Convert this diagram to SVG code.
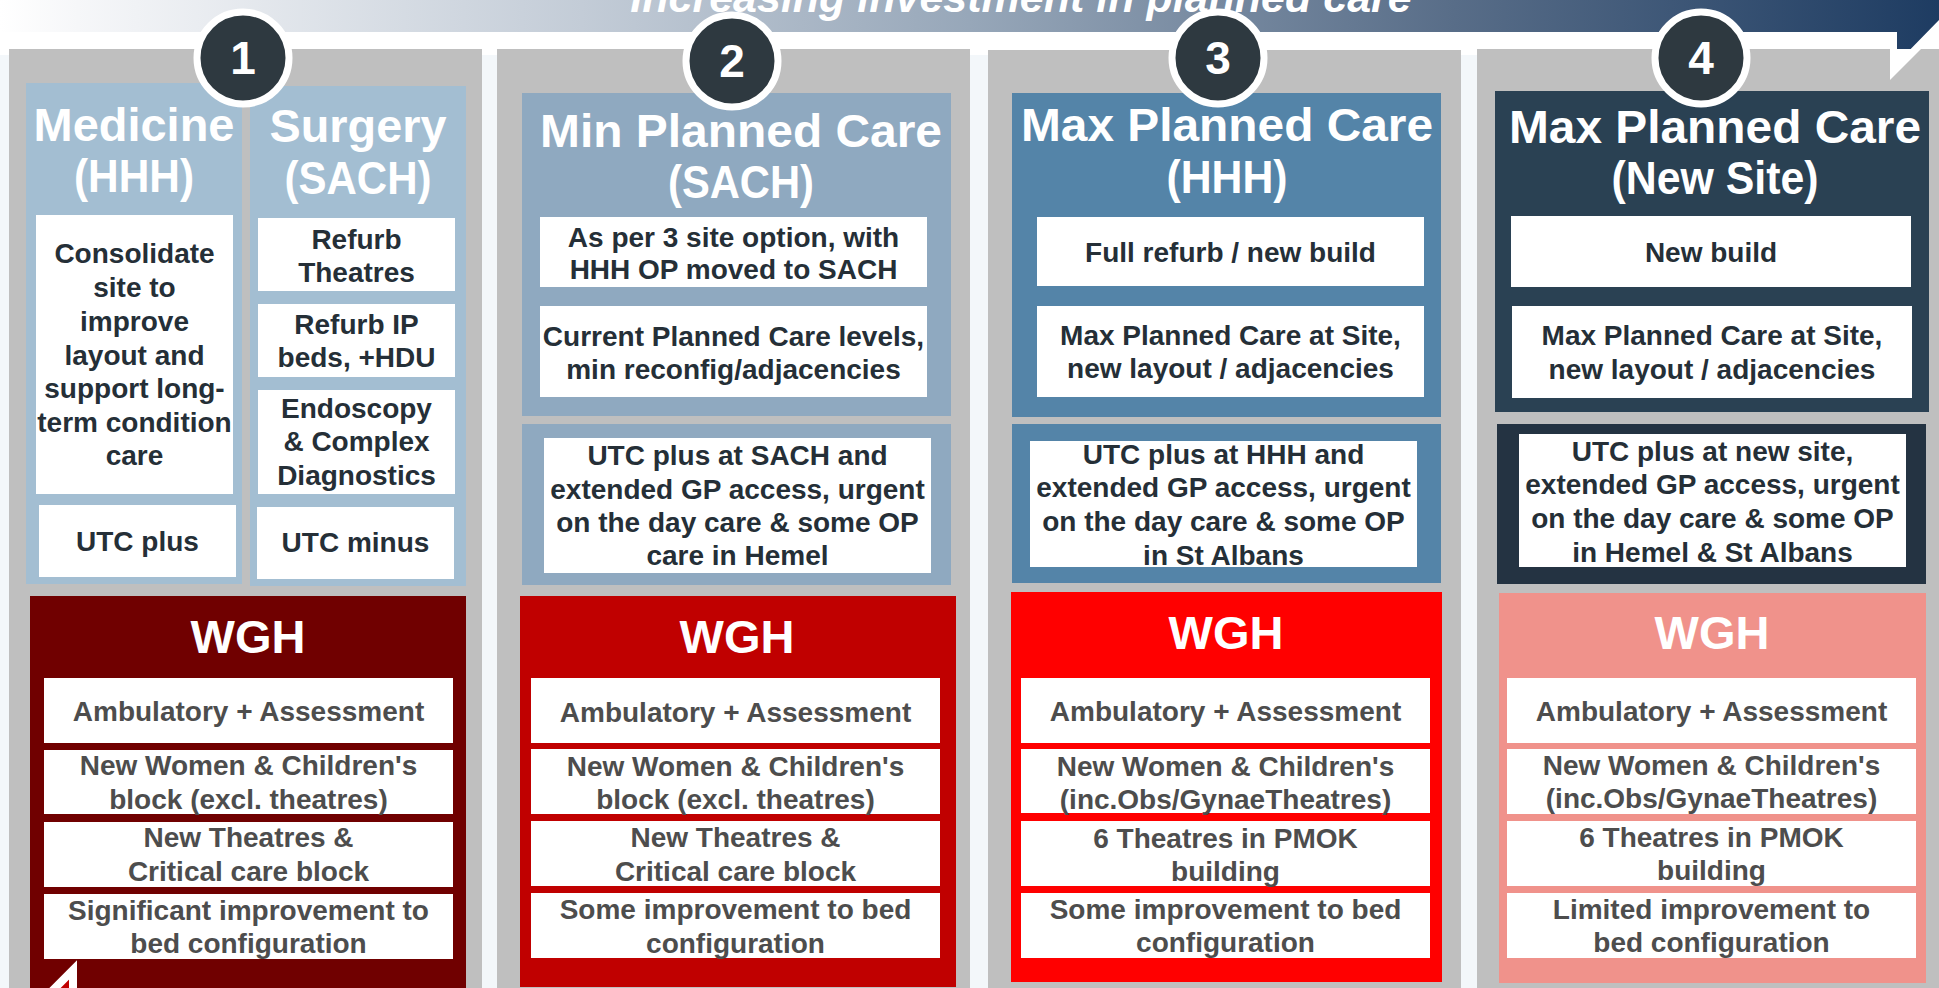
<svg xmlns="http://www.w3.org/2000/svg" width="1939" height="988" viewBox="0 0 1939 988">
<defs>
<linearGradient id="band" x1="0" y1="0" x2="1939" y2="0" gradientUnits="userSpaceOnUse">
<stop offset="0" stop-color="#FFFFFF"/>
<stop offset="0.04" stop-color="#F6F7F9"/>
<stop offset="0.3" stop-color="#C3CCD7"/>
<stop offset="0.5" stop-color="#97A7B9"/>
<stop offset="0.75" stop-color="#586D88"/>
<stop offset="1" stop-color="#1E3C62"/>
</linearGradient>
<style>
text{font-family:"Liberation Sans",Arial,sans-serif;font-weight:bold;text-anchor:middle}
.gray{fill:#BFBFBF}
.wb{fill:#FFFFFF}
.title{fill:#FFFFFF;font-size:47px}
.num{fill:#FFFFFF;font-size:46px}
.body{fill:#252F37;font-size:28px}
.wt{fill:#4D4D4D;font-size:28px}
.wgh{fill:#FFFFFF;font-size:47px}
.circ{fill:#2E3940;stroke:#FFFFFF;stroke-width:7}
</style>
</defs>
<rect x="0" y="0" width="1939" height="988" fill="#FFFFFF"/>
<rect x="0" y="55" width="1939" height="933" fill="#F3F7FA"/>

<g id="banner">
<polygon points="1890,32 1890,80 1939,31 1939,20" fill="#FFFFFF"/>
<polygon points="0,0 1939,0 1939,20 1897,63 1897,32 0,32" fill="url(#band)"/>
<text x="1021" y="12" font-size="43" font-style="italic" fill="#FFFFFF">Increasing investment in planned care</text>
</g>

<g id="panels">
<rect class="gray" x="9" y="49" width="473" height="939"/>
<rect class="gray" x="497" y="49" width="473" height="939"/>
<rect class="gray" x="988" y="50" width="473" height="938"/>
<rect class="gray" x="1477" y="49" width="462" height="939"/>
</g>
<polygon points="1890,49 1890,80 1921,49" fill="#FFFFFF"/>

<!-- Option 1 -->
<g id="medicine-hhh">
<rect x="26" y="83" width="216" height="501" fill="#A3BED2"/>
<text class="title" x="134" y="141" textLength="201" lengthAdjust="spacingAndGlyphs">Medicine</text>
<text class="title" x="134" y="192" textLength="120" lengthAdjust="spacingAndGlyphs">(HHH)</text>
<rect class="wb" x="36" y="215" width="197" height="279"/>
<text class="body" x="134.5"><tspan x="134.5" y="263">Consolidate</tspan><tspan x="134.5" y="297">site to</tspan><tspan x="134.5" y="331">improve</tspan><tspan x="134.5" y="365">layout and</tspan><tspan x="134.5" y="398">support long-</tspan><tspan x="134.5" y="432">term condition</tspan><tspan x="134.5" y="465">care</tspan></text>
<rect class="wb" x="39" y="505" width="197" height="72"/>
<text class="body" x="137.5" y="551">UTC plus</text>
</g>
<g id="surgery-sach">
<rect x="250" y="86" width="216" height="500" fill="#A3BED2"/>
<text class="title" x="358" y="142" textLength="177" lengthAdjust="spacingAndGlyphs">Surgery</text>
<text class="title" x="358" y="194" textLength="147" lengthAdjust="spacingAndGlyphs">(SACH)</text>
<rect class="wb" x="258" y="218" width="197" height="73"/>
<text class="body"><tspan x="356.5" y="249">Refurb</tspan><tspan x="356.5" y="282">Theatres</tspan></text>
<rect class="wb" x="258" y="304" width="197" height="73"/>
<text class="body"><tspan x="356.5" y="334">Refurb IP</tspan><tspan x="356.5" y="367">beds, +HDU</tspan></text>
<rect class="wb" x="258" y="390" width="197" height="104"/>
<text class="body"><tspan x="356.5" y="418">Endoscopy</tspan><tspan x="356.5" y="451">&amp; Complex</tspan><tspan x="356.5" y="485">Diagnostics</tspan></text>
<rect class="wb" x="257" y="507" width="197" height="72"/>
<text class="body" x="355.5" y="552">UTC minus</text>
</g>
<g id="wgh-1">
<rect x="30" y="596" width="436" height="400" fill="#700000"/>
<text class="wgh" x="248" y="653">WGH</text>
<rect class="wb" x="44" y="678" width="409" height="65"/>
<text class="wt" x="248.5" y="721">Ambulatory + Assessment</text>
<rect class="wb" x="44" y="750" width="409" height="64"/>
<text class="wt"><tspan x="248.5" y="775">New Women &amp; Children's</tspan><tspan x="248.5" y="809">block (excl. theatres)</tspan></text>
<rect class="wb" x="44" y="822" width="409" height="65"/>
<text class="wt"><tspan x="248.5" y="847">New Theatres &amp;</tspan><tspan x="248.5" y="881">Critical care block</tspan></text>
<rect class="wb" x="44" y="894" width="409" height="65"/>
<text class="wt"><tspan x="248.5" y="920">Significant improvement to</tspan><tspan x="248.5" y="953">bed configuration</tspan></text>
</g>
<g id="bottom-arrow">
<polygon points="73,970 73,1020 23,1020" fill="#C00000" stroke="#FFFFFF" stroke-width="8"/>
</g>

<!-- Option 2 -->
<g id="min-planned-care-sach">
<rect x="522" y="93" width="429" height="323" fill="#8FA9C0"/>
<text class="title" x="741" y="147" textLength="402" lengthAdjust="spacingAndGlyphs">Min Planned Care</text>
<text class="title" x="741" y="198" textLength="146" lengthAdjust="spacingAndGlyphs">(SACH)</text>
<rect class="wb" x="540" y="217" width="387" height="70"/>
<text class="body"><tspan x="733.5" y="247">As per 3 site option, with</tspan><tspan x="733.5" y="279">HHH OP moved to SACH</tspan></text>
<rect class="wb" x="540" y="306" width="387" height="91"/>
<text class="body"><tspan x="733.5" y="346">Current Planned Care levels,</tspan><tspan x="733.5" y="379">min reconfig/adjacencies</tspan></text>
</g>
<g id="utc-2">
<rect x="522" y="424" width="429" height="161" fill="#8FA9C0"/>
<rect class="wb" x="544" y="438" width="387" height="135"/>
<text class="body"><tspan x="737.5" y="465">UTC plus at SACH and</tspan><tspan x="737.5" y="499">extended GP access, urgent</tspan><tspan x="737.5" y="532">on the day care &amp; some OP</tspan><tspan x="737.5" y="565">care in Hemel</tspan></text>
</g>
<g id="wgh-2">
<rect x="520" y="596" width="436" height="391" fill="#C00000"/>
<text class="wgh" x="737" y="653">WGH</text>
<rect class="wb" x="531" y="678" width="409" height="65"/>
<text class="wt" x="735.5" y="722">Ambulatory + Assessment</text>
<rect class="wb" x="531" y="749" width="409" height="65"/>
<text class="wt"><tspan x="735.5" y="776">New Women &amp; Children's</tspan><tspan x="735.5" y="809">block (excl. theatres)</tspan></text>
<rect class="wb" x="531" y="821" width="409" height="65"/>
<text class="wt"><tspan x="735.5" y="847">New Theatres &amp;</tspan><tspan x="735.5" y="881">Critical care block</tspan></text>
<rect class="wb" x="531" y="893" width="409" height="65"/>
<text class="wt"><tspan x="735.5" y="919">Some improvement to bed</tspan><tspan x="735.5" y="953">configuration</tspan></text>
</g>

<!-- Option 3 -->
<g id="max-planned-care-hhh">
<rect x="1012" y="93" width="429" height="324" fill="#5484A8"/>
<text class="title" x="1227" y="141" textLength="412" lengthAdjust="spacingAndGlyphs">Max Planned Care</text>
<text class="title" x="1227" y="193" textLength="121" lengthAdjust="spacingAndGlyphs">(HHH)</text>
<rect class="wb" x="1037" y="217" width="387" height="69"/>
<text class="body" x="1230.5" y="262">Full refurb / new build</text>
<rect class="wb" x="1037" y="306" width="387" height="91"/>
<text class="body"><tspan x="1230.5" y="345">Max Planned Care at Site,</tspan><tspan x="1230.5" y="378">new layout / adjacencies</tspan></text>
</g>
<g id="utc-3">
<rect x="1012" y="424" width="429" height="159" fill="#5484A8"/>
<rect class="wb" x="1030" y="441" width="387" height="126"/>
<text class="body"><tspan x="1223.5" y="464">UTC plus at HHH and</tspan><tspan x="1223.5" y="497">extended GP access, urgent</tspan><tspan x="1223.5" y="531">on the day care &amp; some OP</tspan><tspan x="1223.5" y="565">in St Albans</tspan></text>
</g>
<g id="wgh-3">
<rect x="1011" y="592" width="431" height="390" fill="#FF0000"/>
<text class="wgh" x="1226" y="649">WGH</text>
<rect class="wb" x="1021" y="678" width="409" height="65"/>
<text class="wt" x="1225.5" y="721">Ambulatory + Assessment</text>
<rect class="wb" x="1021" y="749" width="409" height="64"/>
<text class="wt"><tspan x="1225.5" y="776">New Women &amp; Children's</tspan><tspan x="1225.5" y="809">(inc.Obs/GynaeTheatres)</tspan></text>
<rect class="wb" x="1021" y="821" width="409" height="65"/>
<text class="wt"><tspan x="1225.5" y="848">6 Theatres in PMOK</tspan><tspan x="1225.5" y="881">building</tspan></text>
<rect class="wb" x="1021" y="893" width="409" height="65"/>
<text class="wt"><tspan x="1225.5" y="919">Some improvement to bed</tspan><tspan x="1225.5" y="952">configuration</tspan></text>
</g>

<!-- Option 4 -->
<g id="max-planned-care-new-site">
<rect x="1495" y="91" width="434" height="321" fill="#2A4153"/>
<text class="title" x="1715" y="143" textLength="412" lengthAdjust="spacingAndGlyphs">Max Planned Care</text>
<text class="title" x="1715" y="194" textLength="207" lengthAdjust="spacingAndGlyphs">(New Site)</text>
<rect class="wb" x="1511" y="216" width="400" height="71"/>
<text class="body" x="1711" y="262">New build</text>
<rect class="wb" x="1512" y="306" width="400" height="92"/>
<text class="body"><tspan x="1712" y="345">Max Planned Care at Site,</tspan><tspan x="1712" y="379">new layout / adjacencies</tspan></text>
</g>
<g id="utc-4">
<rect x="1497" y="424" width="429" height="160" fill="#243342"/>
<rect class="wb" x="1519" y="434" width="387" height="133"/>
<text class="body"><tspan x="1712.5" y="461">UTC plus at new site,</tspan><tspan x="1712.5" y="494">extended GP access, urgent</tspan><tspan x="1712.5" y="528">on the day care &amp; some OP</tspan><tspan x="1712.5" y="562">in Hemel &amp; St Albans</tspan></text>
</g>
<g id="wgh-4">
<rect x="1499" y="593" width="427" height="390" fill="#F0928B"/>
<text class="wgh" x="1712" y="649">WGH</text>
<rect class="wb" x="1507" y="678" width="409" height="65"/>
<text class="wt" x="1711.5" y="721">Ambulatory + Assessment</text>
<rect class="wb" x="1507" y="749" width="409" height="65"/>
<text class="wt"><tspan x="1711.5" y="775">New Women &amp; Children's</tspan><tspan x="1711.5" y="808">(inc.Obs/GynaeTheatres)</tspan></text>
<rect class="wb" x="1507" y="821" width="409" height="65"/>
<text class="wt"><tspan x="1711.5" y="847">6 Theatres in PMOK</tspan><tspan x="1711.5" y="880">building</tspan></text>
<rect class="wb" x="1507" y="893" width="409" height="65"/>
<text class="wt"><tspan x="1711.5" y="919">Limited improvement to</tspan><tspan x="1711.5" y="952">bed configuration</tspan></text>
</g>

<g id="badges">
<g id="badge-1"><circle class="circ" cx="243" cy="58" r="46"/><text class="num" x="243" y="74">1</text></g>
<g id="badge-2"><circle class="circ" cx="732" cy="61" r="46"/><text class="num" x="732" y="77">2</text></g>
<g id="badge-3"><circle class="circ" cx="1218" cy="58" r="46"/><text class="num" x="1218" y="74">3</text></g>
<g id="badge-4"><circle class="circ" cx="1701" cy="58" r="46"/><text class="num" x="1701" y="74">4</text></g>
</g>
<g id="connectors"/>
</svg>
